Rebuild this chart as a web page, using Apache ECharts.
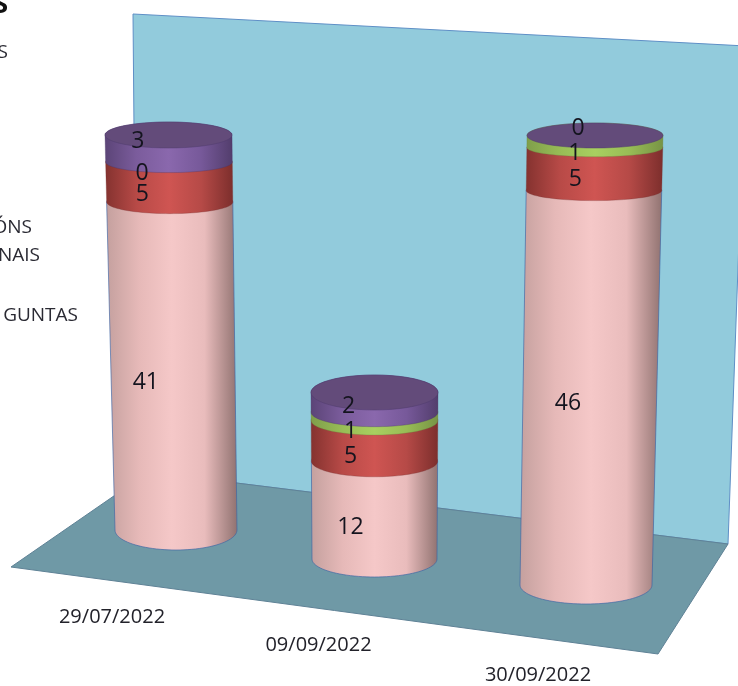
<!DOCTYPE html>
<html><head><meta charset="utf-8">
<style>html,body{margin:0;padding:0;background:#fff}#c{width:738px;height:686px}</style>
<script src="https://cdn.jsdelivr.net/npm/echarts@6/dist/echarts.min.js"></script>
</head><body><div id="c"></div>
<script>
// ---- data ----
const dates = ['29/07/2022', '09/09/2022', '30/09/2022'];
const pinkValues = [41, 12, 46];
const redValues = [5, 5, 5];
const greenValues = [0, 1, 1];
const purpleValues = [3, 2, 0];

// ---- layout and style, kept apart from the data ----
const legendBits = [
  {t: 'S', x: 8, y: 53}, {t: 'ÓNS', x: 32, y: 228},
  {t: 'NAIS', x: 40, y: 256}, {t: 'GUNTAS', x: 78, y: 316}
];
// front edge of base, front edge of top, widths, centres, ellipse half-heights (rc = top cap)
const cyl = [
  {y0: 550, y1: 148, c0: 176, c1: 168.5, w0: 122, w1: 127, r0: 20, r1: 10, rc: 13, ldx: 64, ml: 57, tdy: -20, tdx: -31},
  {y0: 577, y1: 410, c0: 374.5, c1: 374.5, w0: 125, w1: 127, r0: 18, r1: 14, rc: 17.5, ldx: 56, ml: 58, tdy: -13, tdx: -26},
  {y0: 604, y1: 148, c0: 586, c1: 595, w0: 132, w1: 136, r0: 19, r1: 9, rc: 12.5, ldx: 48, ml: 61, tdy: -21, tdx: -17}
];
const sideDx = [[-27, -27, -27, 0], [-24, -24, -24, 0], [-22, -19, -20, 0]]; // label x shift by stack level
const layers = [
  {name: 'pink', v: pinkValues, stops: ['#c4a09e', '#e6b9b8', '#f5c8c8', '#e9bcbc', '#907270'], stroke: 'rgba(60,100,165,0.65)'},
  {name: 'red', v: redValues, stops: ['#84322f', '#b84a47', '#cf5552', '#b64a47', '#7c2e2c'], stroke: 'rgba(120,50,50,0.3)'},
  {name: 'green', v: greenValues, stops: ['#7f9e4b', '#98bd56', '#a8d060', '#98bd56', '#779345'], stroke: 'rgba(100,130,60,0.3)'},
  {name: 'purple', v: purpleValues, stops: ['#5b4477', '#7b5c9c', '#8a68ad', '#77599a', '#523d6c'], stroke: 'rgba(70,50,100,0.3)'}
];
const capColor = '#634b7a';
const textFont = '"Open Sans", sans-serif';

const totals = dates.map((d, i) => layers.reduce((s, l) => s + l.v[i], 0));

function gradient(stops) {
  return new echarts.graphic.LinearGradient(0, 0, 1, 0, stops.map((c, i) => ({offset: i / (stops.length - 1), color: c})));
}
function ring(g, y) { // geometry at a given pixel height of the front edge
  const t = (g.y0 - y) / (g.y0 - g.y1);
  const cx = g.c0 + (g.c1 - g.c0) * t, hw = (g.w0 + (g.w1 - g.w0) * t) / 2;
  const r = Math.abs(y - g.y1) < 0.01 ? g.rc : g.r0 + (g.r1 - g.r0) * t;
  return {cx, hw, r, cy: y - r};
}
function arc(R, from, to) { // sampled ellipse arc, angle in degrees, 0 = right, 90 = front
  const pts = [];
  for (let k = 0; k <= 48; k++) {
    const a = (from + (to - from) * k / 48) * Math.PI / 180;
    pts.push([R.cx + R.hw * Math.cos(a), R.cy + R.r * Math.sin(a)]);
  }
  return pts;
}
function makeRender(i, li, isTop) {
  return function (params, api) {
    const y0 = api.coord([0, api.value(1)])[1];
    const y1 = api.coord([0, api.value(2)])[1];
    const g = cyl[i], L = layers[li];
    const lo = ring(g, y0), hi = ring(g, y1);
    const children = [];
    if (api.value(2) > api.value(1)) {
      children.push({
        type: 'polygon', z2: 10 + li,
        shape: {points: arc(lo, 0, 180).concat(arc(hi, 180, 360))},
        style: {fill: gradient(L.stops), stroke: L.stroke, lineWidth: 1}
      });
    }
    if (isTop) {
      children.push({
        type: 'polygon', z2: 20,
        shape: {points: arc(hi, 0, 360)},
        style: {fill: capColor, stroke: 'rgba(80,60,110,0.5)', lineWidth: 1}
      });
    }
    const dx = isTop ? g.tdx : sideDx[i][li];
    const dy = isTop ? g.tdy : 0;
    const m = ring(g, (y0 + y1) / 2);
    children.push({
      type: 'text', z2: 100,
      style: {
        text: String(api.value(2) - api.value(1)),
        x: m.cx + dx, y: (y0 + y1) / 2 + dy + 1,
        align: 'center', verticalAlign: 'middle',
        font: '23px ' + textFont, fill: '#14141e'
      }
    });
    return {type: 'group', children};
  };
}

const grids = [], xAxes = [], yAxes = [], series = [];
dates.forEach((d, i) => {
  const g = cyl[i];
  grids.push({left: g.c0 - g.w0 / 2, width: g.w0, top: g.y1, height: g.y0 - g.y1, show: false, containLabel: false});
  xAxes.push({
    gridIndex: i, type: 'category', data: [d],
    axisLine: {show: false}, axisTick: {show: false}, splitLine: {show: false},
    axisLabel: {
      show: true, margin: g.ml, interval: 0, hideOverlap: false, color: '#22222a',
      fontFamily: textFont, fontSize: 20, padding: [0, g.ldx * 2, 0, 0]
    }
  });
  yAxes.push({gridIndex: i, type: 'value', min: 0, max: totals[i], show: false, splitLine: {show: false}});
  let base = 0;
  layers.forEach((L, li) => {
    series.push({
      type: 'custom', name: L.name, xAxisIndex: i, yAxisIndex: i, clip: false,
      coordinateSystem: 'cartesian2d', animation: false,
      encode: {x: 0, y: [1, 2]},
      data: [[0, base, base + L.v[i]]],
      renderItem: makeRender(i, li, li === layers.length - 1)
    });
    base += L.v[i];
  });
});

const graphicEls = [
  {type: 'polygon', z: 0, shape: {points: [[133, 14], [746, 46], [728, 544], [180, 476], [137, 476]]},
   style: {fill: '#92cbdc', stroke: '#5f8fc6', lineWidth: 1}},
  {type: 'polygon', z: 1, shape: {points: [[137, 480], [180, 476], [728, 544], [658, 654], [11, 567]]},
   style: {fill: '#6f99a6', stroke: '#5f8296', lineWidth: 1}},
  {type: 'text', z: 5, style: {text: 'S', x: 8, y: -8, align: 'right', font: 'bold 27px ' + textFont, fill: '#111'}}
].concat(legendBits.map(b => ({
  type: 'text', z: 5,
  style: {text: b.t, x: b.x, y: b.y, align: 'right', verticalAlign: 'middle', font: '19px ' + textFont, fill: '#2a2a33'}
})));

const chart = echarts.init(document.getElementById('c'), null, {renderer: 'canvas'});
chart.setOption({
  animation: false, backgroundColor: '#fff', tooltip: {show: false},
  grid: grids, xAxis: xAxes, yAxis: yAxes, series, graphic: {elements: graphicEls}
});
</script></body></html>
